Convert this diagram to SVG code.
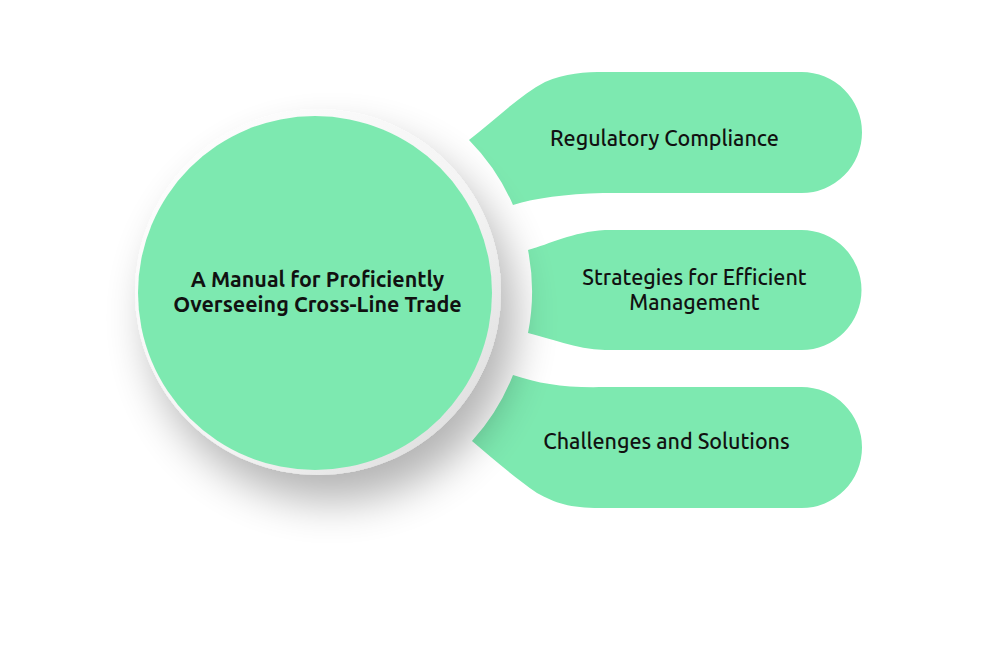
<svg xmlns="http://www.w3.org/2000/svg" width="998" height="652" viewBox="0 0 998 652">
  <defs>
    <style>
      .shape { fill: #7DE9B0; }
      .lbl { font-family: Ubuntu, Roboto, "Noto Sans", "Liberation Sans", sans-serif; font-size: 21.5px; font-weight: 500; fill: #111; text-anchor: middle; }
      .title { font-family: Ubuntu, Roboto, "Noto Sans", "Liberation Sans", sans-serif; font-size: 21.5px; font-weight: 700; fill: #111; text-anchor: middle; }
    </style>
    <filter id="shadow" x="-50%" y="-50%" width="200%" height="200%">
      <feGaussianBlur in="SourceAlpha" stdDeviation="22"/>
      <feOffset dx="14" dy="26" result="b"/>
      <feComponentTransfer><feFuncA type="linear" slope="0.3"/></feComponentTransfer>
      <feMerge><feMergeNode/><feMergeNode in="SourceGraphic"/></feMerge>
    </filter>
    <linearGradient id="ring" x1="0" y1="0" x2="1" y2="1">
      <stop offset="0" stop-color="#ffffff"/>
      <stop offset="0.6" stop-color="#f3f3f3"/>
      <stop offset="1" stop-color="#d8d8d8"/>
    </linearGradient>
  </defs>
  <rect width="998" height="652" fill="#ffffff"/>

  <g id="node-regulatory">
    <path class="shape" d="M469,140 C495,120 520,95 545,82 C565,73 585,72 605,72 L801.5,72 A60.5 60.5 0 0 1 801.5,193 L603,193 C565,194 535,198 513,205 A214 214 0 0 0 469,140 Z"/>
    <text class="lbl" x="664.5" y="146">Regulatory Compliance</text>
  </g>

  <g id="node-strategies">
    <path class="shape" d="M528,250 C550,244 572,232 605,230 L801.5,230 A60 60 0 0 1 801.5,350 L605,350 C575,349 550,338 528,333 A214 214 0 0 0 528,250 Z"/>
    <text class="lbl" x="694.5" y="285">Strategies for Efficient</text>
    <text class="lbl" x="694.5" y="310">Management</text>
  </g>

  <g id="node-challenges">
    <path class="shape" d="M513,375 C540,384 565,388 605,387 L801.5,387 A60.5 60.5 0 0 1 801.5,508 L600,508 C570,508 555,503 537,493 C515,478 492,458 472,441 A214 214 0 0 0 513,375 Z"/>
    <text class="lbl" x="666.5" y="449">Challenges and Solutions</text>
  </g>

  <g id="connectors"></g>

  <g id="node-center">
    <circle cx="318" cy="292" r="183" fill="url(#ring)" filter="url(#shadow)"/>
    <circle cx="315" cy="293" r="177" class="shape"/>
    <text class="title" x="317.5" y="287">A Manual for Proficiently</text>
    <text class="title" x="317.5" y="312">Overseeing Cross-Line Trade</text>
  </g>
</svg>
